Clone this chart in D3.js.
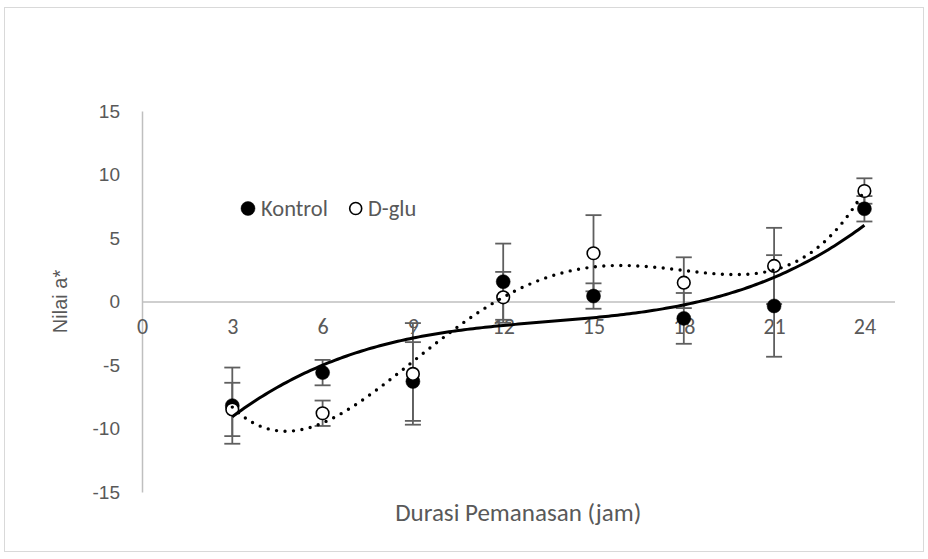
<!DOCTYPE html>
<html>
<head>
<meta charset="utf-8">
<script src="https://cdn.jsdelivr.net/npm/d3@7"></script>
<style>
  html, body { margin: 0; padding: 0; background: #fff; }
  svg { display: block; }
</style>
</head>
<body>
<svg id="chart" width="928" height="559"></svg>
<script>
// ---- data ----
const durations = [3, 6, 9, 12, 15, 18, 21, 24];
const kontrolMean = [-8.2, -5.6, -6.3, 1.56, 0.43, -1.33, -0.35, 7.3];
const kontrolErr  = [3.0, 1.0, 3.1, 3.0, 1.0, 2.0, 4.0, 1.0];
const dgluMean    = [-8.5, -8.8, -5.7, 0.33, 3.8, 1.48, 2.8, 8.7];
const dgluErr     = [2.1, 1.0, 4.0, 2.0, 3.0, 2.0, 3.0, 1.0];
const xTicks = [0, 3, 6, 9, 12, 15, 18, 21, 24];
const yTicks = [-15, -10, -5, 0, 5, 10, 15];
const seriesNames = ["Kontrol", "D-glu"];
const xTitle = "Durasi Pemanasan (jam)";
const yTitle = "Nilai a*";

// ---- polynomial least squares (Excel-style trendline) ----
function polyfit(xs, ys, deg) {
  const s = 24; // scale for stability
  const n = deg + 1;
  const A = Array.from({length: n}, () => new Array(n + 1).fill(0));
  xs.forEach((x0, k) => {
    const x = x0 / s;
    for (let i = 0; i < n; i++) {
      for (let j = 0; j < n; j++) A[i][j] += Math.pow(x, i + j);
      A[i][n] += ys[k] * Math.pow(x, i);
    }
  });
  for (let c = 0; c < n; c++) {
    let p = c;
    for (let r = c + 1; r < n; r++) if (Math.abs(A[r][c]) > Math.abs(A[p][c])) p = r;
    [A[c], A[p]] = [A[p], A[c]];
    for (let r = 0; r < n; r++) {
      if (r === c) continue;
      const f = A[r][c] / A[c][c];
      for (let j = c; j <= n; j++) A[r][j] -= f * A[c][j];
    }
  }
  const coef = A.map((row, i) => row[n] / row[i]);
  return x0 => { const x = x0 / s; let v = 0; for (let i = n - 1; i >= 0; i--) v = v * x + coef[i]; return v; };
}

// ---- layout ----
const svg = d3.select("#chart");
const x = d3.scaleLinear().domain([0, 25]).range([142, 894.5]);
const y = d3.scaleLinear().domain([-15, 15]).range([492, 111]);

const gray = "#595959";
const axisGray = "#bfbfbf";
const calibriLike = "Carlito, Calibri, Lato, 'Open Sans', sans-serif";

// outer border
svg.append("rect").attr("x", 4.5).attr("y", 7.5).attr("width", 919).attr("height", 544)
  .attr("fill", "#fff").attr("stroke", "#d9d9d9").attr("stroke-width", 1);

// y axis (vertical line at x=0)
const yAxis = d3.axisLeft(y).tickValues(yTicks).tickSize(0).tickPadding(22).tickFormat(d => String(d));
const gy = svg.append("g").attr("transform", `translate(${x(0)},0)`).call(yAxis);
gy.select(".domain").attr("stroke", axisGray).attr("stroke-width", 1.5);
gy.selectAll("text").attr("fill", gray).attr("font-family", "'Liberation Sans', Arial, sans-serif")
  .attr("font-size", 19);

// x axis (horizontal line at y=0)
const xAxis = d3.axisBottom(x).tickValues(xTicks).tickSize(0).tickPadding(17).tickFormat(d => String(d));
const gx = svg.append("g").attr("transform", `translate(0,${y(0)})`).call(xAxis);
gx.select(".domain").attr("stroke", axisGray).attr("stroke-width", 1.5);
gx.selectAll("text").attr("fill", gray).attr("font-family", calibriLike)
  .attr("font-size", 22);

// axis titles
svg.append("text").attr("x", x(12.5)).attr("y", 521).attr("text-anchor", "middle")
  .attr("fill", gray).attr("font-family", calibriLike).attr("font-size", 25)
  .text(xTitle);
svg.append("text").attr("transform", `translate(67,${y(0)}) rotate(-90)`).attr("text-anchor", "middle")
  .attr("fill", gray).attr("font-family", "'Liberation Sans', Arial, sans-serif").attr("font-size", 20)
  .text(yTitle);

// error bars
const series = [
  {name: seriesNames[0], mean: kontrolMean, err: kontrolErr, filled: true, deg: 3},
  {name: seriesNames[1], mean: dgluMean, err: dgluErr, filled: false, deg: 4}
];
const capW = 8;
series.forEach(s => {
  const g = svg.append("g").attr("stroke", "#5f5f5f").attr("stroke-width", 1.8).attr("fill", "none");
  durations.forEach((d, i) => {
    const xp = x(d), y1 = y(s.mean[i] + s.err[i]), y2 = y(s.mean[i] - s.err[i]);
    g.append("line").attr("x1", xp).attr("x2", xp).attr("y1", y1).attr("y2", y2);
    g.append("line").attr("x1", xp - capW).attr("x2", xp + capW).attr("y1", y1).attr("y2", y1);
    g.append("line").attr("x1", xp - capW).attr("x2", xp + capW).attr("y1", y2).attr("y2", y2);
  });
});

// markers
series.forEach(s => {
  svg.append("g").selectAll("circle").data(durations).join("circle")
    .attr("cx", d => x(d)).attr("cy", (d, i) => y(s.mean[i]))
    .attr("r", s.filled ? 7 : 6.3)
    .attr("fill", s.filled ? "#000" : "#fff")
    .attr("stroke", "#000").attr("stroke-width", s.filled ? 0.5 : 1.6);
});

// trendlines
series.forEach(s => {
  const f = polyfit(durations, s.mean, s.deg);
  const pts = d3.range(3, 24.001, 0.1).map(v => [v, f(v)]);
  const line = d3.line().x(d => x(d[0])).y(d => y(d[1])).curve(d3.curveLinear);
  const p = svg.append("path").attr("d", line(pts)).attr("fill", "none").attr("stroke", "#000");
  if (s.filled) {
    p.attr("stroke-width", 3);
  } else {
    p.attr("stroke-width", 3.4).attr("stroke-linecap", "round").attr("stroke-dasharray", "0 8.5");
  }
});

// legend
const lg = svg.append("g");
const legendItems = [
  {name: seriesNames[0], filled: true, cx: 248, tx: 261},
  {name: seriesNames[1], filled: false, cx: 355.7, tx: 368}
];
legendItems.forEach(it => {
  lg.append("circle").attr("cx", it.cx).attr("cy", 208.5).attr("r", it.filled ? 7 : 6)
    .attr("fill", it.filled ? "#000" : "#fff").attr("stroke", "#000").attr("stroke-width", it.filled ? 0.5 : 1.6);
  lg.append("text").attr("x", it.tx).attr("y", 208.5).attr("dy", "0.35em")
    .attr("fill", gray).attr("font-family", calibriLike).attr("font-size", 22.5)
    .text(it.name);
});
</script>
</body>
</html>
